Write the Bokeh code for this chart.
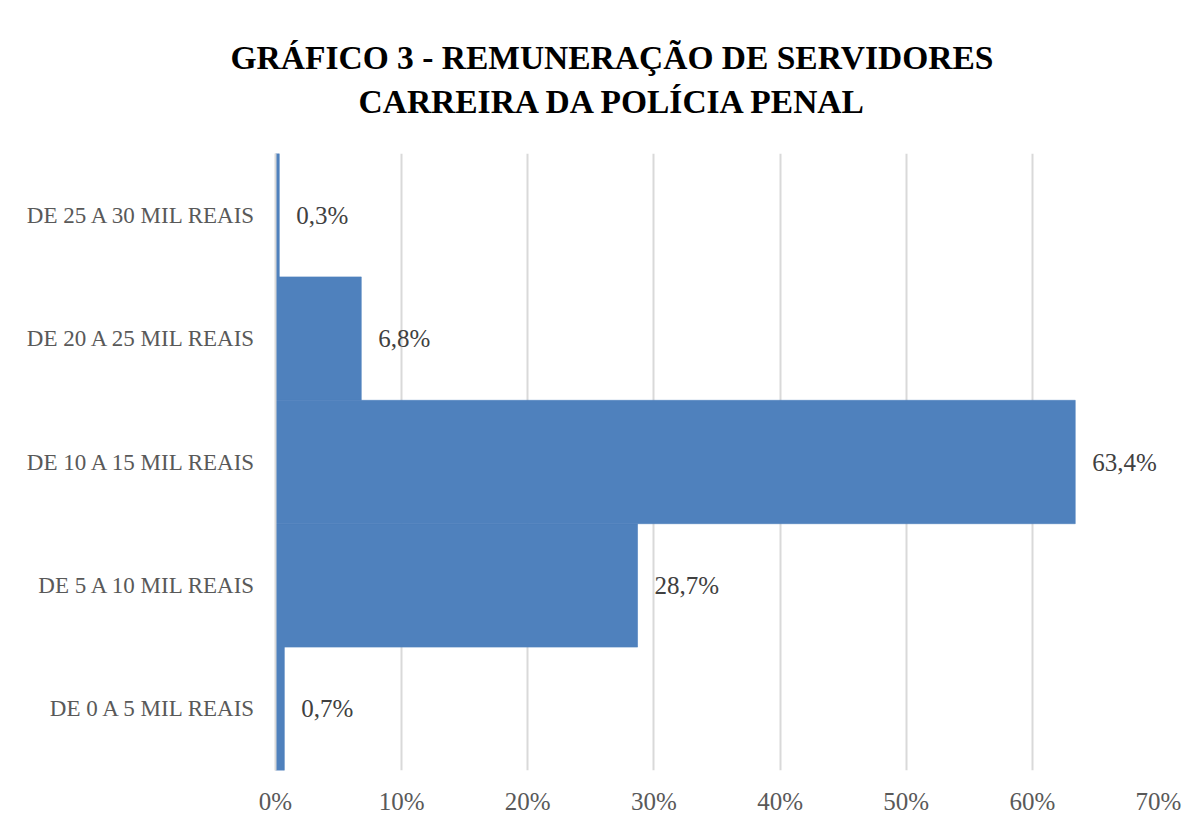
from bokeh.plotting import figure
from bokeh.models import ColumnDataSource, FactorRange, Range1d, FixedTicker, Title
from bokeh.embed import file_html
from bokeh.resources import INLINE
from bokeh.core.properties import value

categories = ["DE 0 A 5 MIL REAIS", "DE 5 A 10 MIL REAIS", "DE 10 A 15 MIL REAIS",
              "DE 20 A 25 MIL REAIS", "DE 25 A 30 MIL REAIS"]
values = [0.7, 28.7, 63.4, 6.8, 0.3]
labels = ["0,7%", "28,7%", "63,4%", "6,8%", "0,3%"]
x_ticks = [0, 10, 20, 30, 40, 50, 60, 70]
x_tick_labels = {t: f"{t}%" for t in x_ticks}
title_lines = ["GRÁFICO 3 - REMUNERAÇÃO DE SERVIDORES", "CARREIRA DA POLÍCIA PENAL"]

FONT = "Liberation Serif"
GREY = "#595959"
BLUE = "#4F81BD"

src = ColumnDataSource(dict(cat=categories, val=values, lab=labels))

p = figure(width=1195, height=817, y_range=FactorRange(*categories), x_range=Range1d(0, 70),
           output_backend="svg", toolbar_location=None,
           min_border_left=275, min_border_right=37, min_border_top=153, min_border_bottom=45)

p.hbar(y="cat", right="val", left=0, height=1.0, source=src, fill_color=BLUE,
       line_color=BLUE, line_width=0.6)
p.text(x="val", y="cat", text="lab", source=src, x_offset=17, text_baseline="middle",
       text_font=value(FONT), text_font_size="25px", text_color="#404040")

# invisible (white on white) spacer between plot area and title block
spacer = Title(text=".", text_font_size="2px", text_color="white", standoff=31)
t2 = Title(text=title_lines[1], align="left", offset=83, text_font=FONT, text_font_size="33.5px",
           text_font_style="bold", text_color="black", standoff=0)
t1 = Title(text=title_lines[0], align="left", offset=-45, text_font=FONT, text_font_size="33.5px",
           text_font_style="bold", text_color="black", standoff=10)
p.add_layout(spacer, "above")
p.add_layout(t2, "above")
p.add_layout(t1, "above")

p.xaxis.ticker = FixedTicker(ticks=x_ticks)
p.xaxis.major_label_overrides = x_tick_labels
p.xaxis.axis_line_color = None
p.xaxis.major_tick_line_color = None
p.xaxis.minor_tick_line_color = None
p.xaxis.major_label_text_font = FONT
p.xaxis.major_label_text_font_size = "25px"
p.xaxis.major_label_text_color = GREY
p.xaxis.major_label_standoff = 11

p.yaxis.axis_line_color = "#D9D9D9"
p.yaxis.axis_line_width = 2
p.yaxis.major_tick_line_color = None
p.yaxis.minor_tick_line_color = None
p.yaxis.major_label_text_font = FONT
p.yaxis.major_label_text_font_size = "23px"
p.yaxis.major_label_text_color = GREY
p.yaxis.major_label_standoff = 12

p.xgrid.grid_line_color = "#D9D9D9"
p.xgrid.grid_line_width = 2
p.ygrid.grid_line_color = None
p.outline_line_color = None
p.border_fill_color = "white"

open("out.html", "w").write(file_html(p, INLINE))
